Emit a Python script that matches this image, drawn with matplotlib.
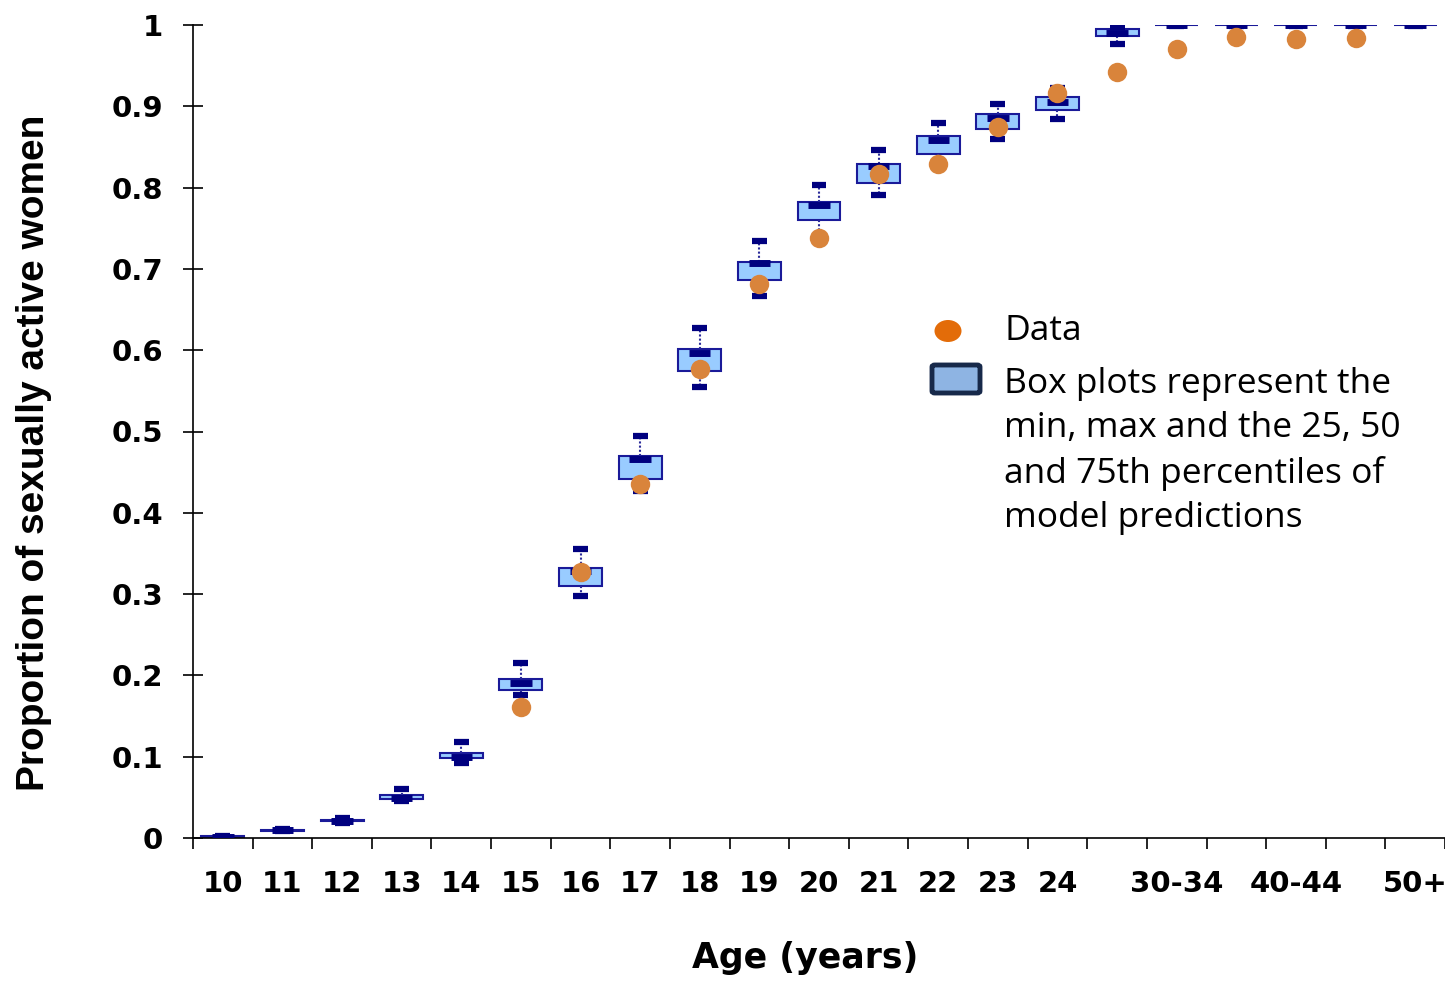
import numpy as np
import matplotlib
matplotlib.use('Agg')
import matplotlib.pyplot as plt
from matplotlib.patches import Ellipse, FancyBboxPatch

# age groups and which of them get a printed label
ages = ['10', '11', '12', '13', '14', '15', '16', '17', '18', '19', '20',
        '21', '22', '23', '24', '25-29', '30-34', '35-39', '40-44', '45-49', '50+']
shown = ['10', '11', '12', '13', '14', '15', '16', '17', '18', '19', '20',
         '21', '22', '23', '24', '30-34', '40-44', '50+']

# model predictions: min, 25th, 50th, 75th percentile, max
pred_min = [0.0005, 0.008, 0.019, 0.045, 0.092, 0.176, 0.298, 0.427, 0.555, 0.667, 0.740,
            0.791, 0.828, 0.860, 0.884, 0.977, 0.999, 0.999, 0.999, 0.999, 0.999]
pred_q1 = [0.0012, 0.0092, 0.0205, 0.048, 0.098, 0.182, 0.310, 0.442, 0.575, 0.686, 0.760,
           0.806, 0.841, 0.872, 0.896, 0.986, 0.9995, 0.9995, 0.9995, 0.9995, 0.9995]
pred_med = [0.0017, 0.0098, 0.021, 0.049, 0.100, 0.191, 0.328, 0.466, 0.597, 0.707, 0.779,
            0.826, 0.858, 0.885, 0.905, 0.990, 0.9998, 0.9998, 0.9998, 0.9998, 0.9998]
pred_q3 = [0.0022, 0.0104, 0.0218, 0.053, 0.105, 0.196, 0.332, 0.470, 0.602, 0.709, 0.782,
           0.829, 0.864, 0.891, 0.912, 0.995, 1.0, 1.0, 1.0, 1.0, 1.0]
pred_max = [0.003, 0.011, 0.024, 0.060, 0.118, 0.215, 0.355, 0.495, 0.627, 0.734, 0.803,
            0.846, 0.879, 0.903, 0.922, 0.998, 1.0, 1.0, 1.0, 1.0, 1.0]

# observed proportions (not available for the youngest ages and 50+)
observed = [np.nan, np.nan, np.nan, np.nan, np.nan, 0.161, 0.327, 0.435, 0.577, 0.681, 0.738,
            0.817, 0.829, 0.875, 0.916, 0.942, 0.971, 0.985, 0.983, 0.984, np.nan]

W, H = 1445, 981
fig = plt.figure(figsize=(W / 100, H / 100), dpi=100)
ax = fig.add_axes([193 / W, (H - 838) / H, (W - 193) / W, (838 - 25) / H])

x = np.arange(len(ages))
stats = []
for i in range(len(ages)):
    stats.append({'whislo': pred_min[i], 'q1': pred_q1[i], 'med': pred_med[i],
                  'q3': pred_q3[i], 'whishi': pred_max[i], 'fliers': []})

navy = '#00007f'
ax.bxp(stats, positions=x, widths=0.72, patch_artist=True, showfliers=False,
       boxprops=dict(facecolor='#99ccff', edgecolor='#1a1a99', linewidth=1.5),
       whiskerprops=dict(color='#2a2a9a', linestyle=(0, (1, 1)), linewidth=1.5),
       capprops=dict(color=navy, linewidth=4.5, solid_capstyle='butt'),
       capwidths=0.25,
       medianprops=dict(linewidth=0))
ax.hlines(pred_med, x - 0.18, x + 0.18, colors=navy, linewidth=5, zorder=3)

ax.plot(x, observed, 'o', color='#d9843b', markersize=14, markeredgewidth=0, zorder=4)

ax.set_ylim(0, 1)
ax.set_xlim(-0.5, -0.5 + (W - 193) / 59.8)
ax.set_yticks(np.arange(0, 1.01, 0.1))
ax.set_yticklabels(['0', '0.1', '0.2', '0.3', '0.4', '0.5', '0.6', '0.7', '0.8', '0.9', '1'])
ax.set_xticks(np.arange(-0.5, len(ages), 1.0))
ax.set_xticklabels([])
ax.set_xticks(x, minor=True)
ax.set_xticklabels([a if a in shown else '' for a in ages], minor=True)

for s in ['top', 'right']:
    ax.spines[s].set_visible(False)
for s in ['left', 'bottom']:
    ax.spines[s].set_linewidth(1.2)

ax.tick_params(axis='y', direction='inout', length=15, width=1.2, pad=14)
ax.tick_params(axis='x', which='major', direction='out', length=8, width=1.2)
ax.tick_params(axis='x', which='minor', length=0, pad=23)
for lab in ax.get_yticklabels():
    lab.set_fontfamily('DejaVu Sans')
    lab.set_fontweight('bold')
    lab.set_fontsize(21)
for lab in ax.get_xticklabels(minor=True):
    lab.set_fontfamily('DejaVu Sans')
    lab.set_fontweight('bold')
    lab.set_fontsize(21)

ax.set_ylabel('Proportion of sexually active women', fontsize=28, fontweight='bold',
              family='Liberation Sans', va='center')
ax.yaxis.set_label_coords(-(193 - 34) / (W - 193), (838 - 453) / (838 - 25))
ax.set_xlabel('Age (years)', fontsize=25, fontweight='bold', family='DejaVu Sans',
              va='center')
ax.xaxis.set_label_coords((805 - 193) / (W - 193), -(958 - 838) / (838 - 25))

# legend drawn by hand so the box icon sits on the first text line
def fx(px):
    return px / W

def fy(py):
    return (H - py) / H

fig.patches.append(Ellipse((fx(948), fy(331)), 27 / W, 22 / H, transform=fig.transFigure,
                           facecolor='#e36c09', edgecolor='none'))
fig.patches.append(FancyBboxPatch((fx(932), fy(393)), 48 / W, 28 / H,
                                  boxstyle='round,pad=0,rounding_size=0.002',
                                  transform=fig.transFigure, facecolor='#8eb4e3',
                                  edgecolor='#17294a', linewidth=3.5))
fig.text(fx(1004), fy(331), 'Data', fontsize=25.5, family='Open Sans', va='center')
fig.text(fx(1004), fy(367), 'Box plots represent the\nmin, max and the 25, 50\n'
         'and 75th percentiles of\nmodel predictions', fontsize=25.5, family='Open Sans',
         va='top', linespacing=1.39)

fig.savefig('out.png', dpi=100)
